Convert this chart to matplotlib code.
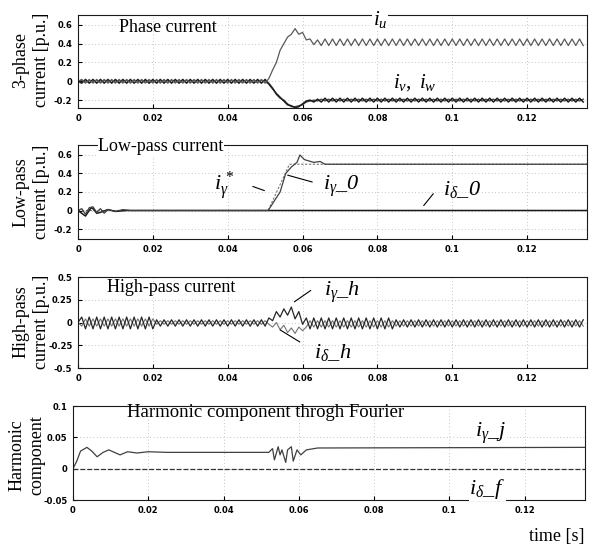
import matplotlib
matplotlib.use('Agg')
import matplotlib.pyplot as plt
import numpy as np

plt.rcParams['font.family'] = 'Liberation Serif'
plt.rcParams['mathtext.fontset'] = 'custom'
plt.rcParams['mathtext.rm'] = 'Liberation Serif'
plt.rcParams['mathtext.it'] = 'Liberation Serif:italic'

# ---- data ----
# panels 1 and 3 sampled every 1 ms (ripple period ~2 ms)
t_r = np.linspace(0, 0.135, 136)

i_u = ([0.0] + [0.02, -0.02] * 25
       + [0.03, 0.12, 0.20, 0.33, 0.40, 0.47, 0.50, 0.56, 0.50, 0.52, 0.44, 0.45, 0.39, 0.44]
       + [0.38, 0.45] * 35 + [0.38])
i_v = ([0.0] + [-0.02, 0.02] * 25
       + [-0.03, -0.08, -0.13, -0.17, -0.21, -0.25, -0.26, -0.28, -0.27, -0.24, -0.21, -0.20, -0.22, -0.19]
       + [-0.22, -0.18] * 35 + [-0.22])
i_w = ([0.0] + [0.01, -0.01] * 25
       + [-0.02, -0.07, -0.14, -0.18, -0.20, -0.24, -0.27, -0.27, -0.26, -0.25, -0.22, -0.21, -0.20, -0.21]
       + [-0.19, -0.21] * 35 + [-0.19])

# low-pass (key points)
t_g0 = [0, 0.001, 0.002, 0.003, 0.004, 0.005, 0.006, 0.007, 0.008, 0.010, 0.012, 0.014,
        0.0508, 0.054, 0.0555, 0.057, 0.0585, 0.0593, 0.0605, 0.063, 0.0647, 0.066, 0.136]
i_g0 = [0, 0.02, -0.04, 0.03, 0.04, -0.02, 0.02, -0.03, 0.01, -0.01, 0.01, 0,
        0, 0.2, 0.4, 0.47, 0.52, 0.60, 0.55, 0.52, 0.53, 0.50, 0.50]
t_gref = [0, 0.0508, 0.0565, 0.136]
i_gref = [0, 0, 0.5, 0.5]
t_d0 = [0, 0.001, 0.002, 0.0035, 0.004, 0.005, 0.006, 0.008, 0.010, 0.013, 0.136]
i_d0 = [0, -0.03, -0.06, 0.03, 0.02, -0.03, -0.02, 0.01, -0.01, 0, 0]

# high-pass
i_gh = ([0.0] + [0.06, -0.07] * 10 + [0.03, -0.04] * 15
        + [0.05, 0.02, 0.12, 0.06, 0.15, 0.08, 0.17, 0.04, 0.12, -0.02]
        + [0.05, -0.07] * 12 + [0.03, -0.05] * 25 + [0.03])
i_dh = ([0.0] + [-0.04, 0.04] * 10 + [-0.02, 0.02] * 15
        + [-0.02, -0.05, 0.0, -0.08, -0.03, -0.11, -0.06, -0.12, -0.05, -0.09]
        + [-0.05, 0.02] * 12 + [-0.04, 0.02] * 25 + [-0.04])

# harmonic component through Fourier
t_gj = [0, 0.001, 0.002, 0.0037, 0.005, 0.0064, 0.008, 0.0095, 0.011, 0.0125, 0.0145,
        0.017, 0.02, 0.025, 0.052, 0.053, 0.0535, 0.0545, 0.055, 0.0555, 0.0565, 0.057,
        0.058, 0.0585, 0.0595, 0.0605, 0.062, 0.065, 0.136]
i_gj = [0, 0.012, 0.028, 0.034, 0.028, 0.019, 0.026, 0.030, 0.026, 0.022, 0.027,
        0.025, 0.027, 0.026, 0.026, 0.032, 0.014, 0.035, 0.022, 0.030, 0.010, 0.030,
        0.035, 0.012, 0.030, 0.022, 0.030, 0.033, 0.034]
t_df = [0, 0.136]
i_df = [0, 0]

xticks = [0, 0.02, 0.04, 0.06, 0.08, 0.1, 0.12]
xtick_labels = ['0', '0.02', '0.04', '0.06', '0.08', '0.1', '0.12']

# ---- layout (pixel boxes of the original) ----
W, H = 599, 551
fig = plt.figure(figsize=(W / 100, H / 100), dpi=100)

def box(l, t, r, b):
    return [l / W, 1 - b / H, (r - l) / W, (b - t) / H]

ax1 = fig.add_axes(box(78, 15, 587, 108))
ax2 = fig.add_axes(box(78, 145, 587, 239))
ax3 = fig.add_axes(box(78, 277, 587, 368))
ax4 = fig.add_axes(box(73, 406, 585, 500))

def style(ax, ylim, yt, ytl):
    ax.set_xlim(0, 0.136)
    ax.set_ylim(*ylim)
    ax.set_xticks(xticks)
    ax.set_xticklabels(xtick_labels)
    ax.set_yticks(yt)
    ax.set_yticklabels(ytl)
    ax.tick_params(direction='in', length=3, width=0.8, pad=4, labelsize=6)
    for lab in ax.get_xticklabels() + ax.get_yticklabels():
        lab.set_family('DejaVu Sans')
        lab.set_fontweight('bold')
    ax.grid(True, ls=(0, (1, 3)), color='0.7', lw=0.6)
    for s in ax.spines.values():
        s.set_linewidth(0.8)
        s.set_color('0.1')

style(ax1, (-0.284, 0.705), [-0.2, 0, 0.2, 0.4, 0.6], ['-0.2', '0', '0.2', '0.4', '0.6'])
style(ax2, (-0.308, 0.708), [-0.2, 0, 0.2, 0.4, 0.6], ['-0.2', '0', '0.2', '0.4', '0.6'])
style(ax3, (-0.5, 0.5), [-0.5, -0.25, 0, 0.25, 0.5], ['-0.5', '-0.25', '0', '0.25', '0.5'])
style(ax4, (-0.05, 0.1), [-0.05, 0, 0.05, 0.1], ['-0.05', '0', '0.05', '0.1'])

# curves
ax1.plot(t_r, i_w, color='0.3', lw=1.0)
ax1.plot(t_r, i_v, color='0.1', lw=1.1)
ax1.plot(t_r, i_u, color='0.35', lw=0.9)

ax2.plot(t_gref, i_gref, color='0.45', lw=0.8, ls=(0, (2, 1.5)))
ax2.plot(t_d0, i_d0, color='0.1', lw=1.1)
ax2.plot(t_g0, i_g0, color='0.25', lw=0.9)

ax3.plot(t_r, i_dh, color='0.45', lw=0.8)
ax3.plot(t_r, i_gh, color='0.15', lw=0.9)

ax4.plot(t_df, i_df, color='0.2', lw=0.9, ls=(0, (4, 1.5)))
ax4.plot(t_gj, i_gj, color='0.25', lw=0.9)

# y labels
ylab_kw = dict(rotation=90, ha='center', va='center', multialignment='center',
               fontsize=13, linespacing=1.25)
fig.text(31 / W, 1 - 60 / H, '3-phase\ncurrent [p.u.]', **ylab_kw)
fig.text(31 / W, 1 - 192 / H, 'Low-pass\ncurrent [p.u.]', **ylab_kw)
fig.text(31 / W, 1 - 322 / H, 'High-pass\ncurrent [p.u.]', **ylab_kw)
fig.text(27 / W, 1 - 455 / H, 'Harmonic\ncomponent', **ylab_kw)

# titles in panels
ax1.text(0.024, 0.57, 'Phase current', ha='center', va='center', fontsize=13)
ax2.text(0.0222, 0.69, 'Low-pass current', ha='center', va='center', fontsize=13,
         bbox=dict(fc='white', ec='none', pad=0.5))
ax3.text(0.025, 0.385, 'High-pass current', ha='center', va='center', fontsize=13)
ax4.text(0.0512, 0.089, 'Harmonic component throgh Fourier', ha='center', va='center',
         fontsize=13.5)

wbox = dict(fc='white', ec='none', pad=0.5)
lab_kw = dict(ha='center', va='center', fontstyle='italic', bbox=wbox)
ax1.text(0.0807, 0.655, r'$i_u$', fontsize=15, **lab_kw)
ax1.text(0.090, -0.01, r'$i_v,\ i_w$', fontsize=15, **lab_kw)

ax2.text(0.039, 0.27, r'$i_{\gamma}^{\,*}$', fontsize=16, ha='center', va='center')
ax2.annotate('', xy=(0.0505, 0.205), xytext=(0.046, 0.27),
             arrowprops=dict(arrowstyle='-', lw=0.8, color='k'))
ax2.text(0.0705, 0.26, r'$i_{\gamma}$_0', fontsize=16, ha='center', va='center',
         fontstyle='italic')
ax2.annotate('', xy=(0.0553, 0.39), xytext=(0.0633, 0.30),
             arrowprops=dict(arrowstyle='-', lw=0.8, color='k'))
ax2.text(0.1025, 0.23, r'$i_{\delta}$_0', fontsize=16, ha='center', va='center',
         fontstyle='italic')
ax2.annotate('', xy=(0.0919, 0.03), xytext=(0.0954, 0.205),
             arrowprops=dict(arrowstyle='-', lw=0.8, color='k'))

ax3.text(0.0705, 0.33, r'$i_{\gamma}$_h', fontsize=16, ha='center', va='center',
         fontstyle='italic')
ax3.annotate('', xy=(0.0572, 0.21), xytext=(0.0628, 0.37),
             arrowprops=dict(arrowstyle='-', lw=0.8, color='k'))
ax3.text(0.068, -0.33, r'$i_{\delta}$_h', fontsize=16, ha='center', va='center',
         fontstyle='italic')
ax3.annotate('', xy=(0.0534, -0.066), xytext=(0.0599, -0.23),
             arrowprops=dict(arrowstyle='-', lw=0.8, color='k'))

ax4.text(0.111, 0.057, r'$i_{\gamma}$_j', fontsize=16, fontstyle='italic',
         ha='center', va='center', bbox=wbox)
ax4.text(0.110, -0.032, r'$i_{\delta}$_f', fontsize=16, fontstyle='italic',
         ha='center', va='center', bbox=wbox)

fig.text(557 / W, 1 - 537 / H, 'time [s]', ha='center', va='center', fontsize=13)

fig.savefig('out.png', dpi=100)
